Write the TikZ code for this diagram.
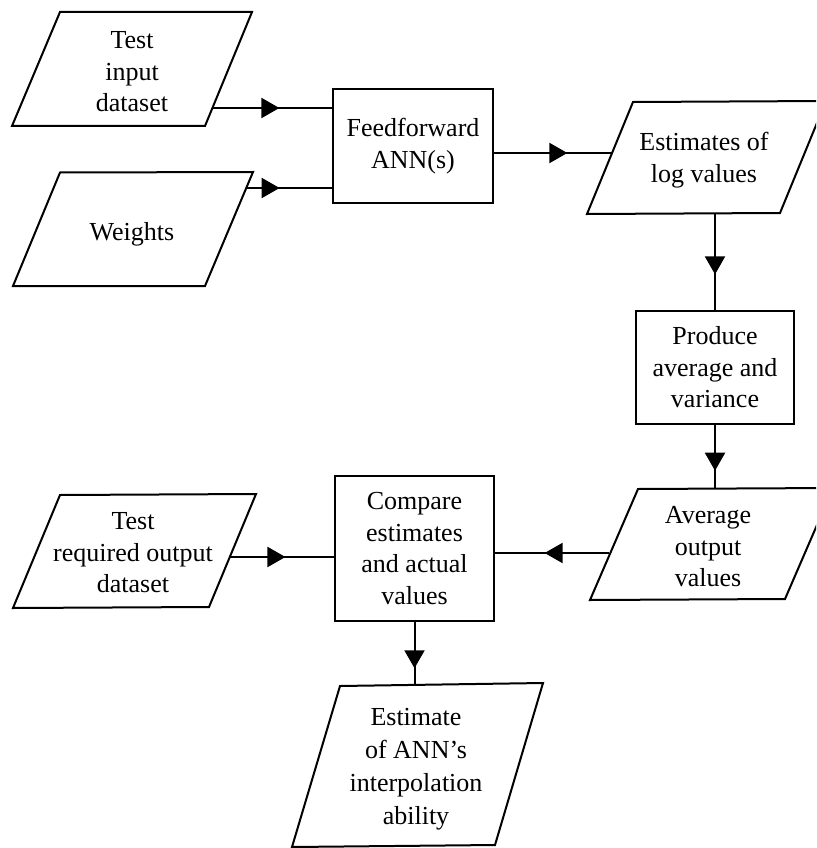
\documentclass[tikz,border=0pt]{standalone}
\usepackage{fontspec}
\setmainfont{Liberation Serif}
\usetikzlibrary{arrows.meta,decorations.markings}
\begin{document}
\begin{tikzpicture}[x=1pt,y=-1pt,
  line width=2pt,
  lbl/.style={font=\fontsize{26}{31.5}\selectfont, align=center, inner sep=0pt},
  procbox/.style={draw, line width=2pt, font=\fontsize{26}{31.5}\selectfont, align=center, inner sep=0pt},
  iobox/.style={draw, line width=2pt, line join=miter},
  conn/.style={draw, line width=2pt},
  midarr/.style={postaction={decorate,decoration={markings,mark=at position #1 with {\arrow{Triangle[length=18pt,width=20pt]}}}}}]
\useasboundingbox (0,0) rectangle (816,848);
\clip (0,0) rectangle (816,848);

% input/output parallelograms
\draw[iobox] (60,12) -- (252,12) -- (205,126) -- (12,126) -- cycle;
\node[lbl] (tin) at (132,72) {Test\\input\\dataset};

\draw[iobox] (60,172.5) -- (253,172) -- (205,286) -- (13,286) -- cycle;
\node[lbl] (wts) at (132,234) {Weights};

\draw[iobox] (633,102) -- (826,101) -- (780,213) -- (587,214) -- cycle;
\node[lbl] (est) at (704,160) {Estimates of\\log values};

\draw[iobox] (638,489) -- (833,488) -- (785,599) -- (590,600) -- cycle;
\node[lbl] (avg) at (708,547) {Average\\output\\values};

\draw[iobox] (60,495) -- (256,494) -- (209,607) -- (13,608) -- cycle;
\node[lbl] (treq) at (133,553) {Test\\required output\\dataset};

\draw[iobox] (340,686) -- (543,683) -- (495,845) -- (292,847) -- cycle;
\node[lbl, font=\fontsize{26}{33}\selectfont] (estm) at (416,769) {Estimate\\of ANN's\\interpolation\\ability};

% process boxes
\node[procbox, minimum width=160pt, minimum height=114pt] (ff) at (413,146) {Feedforward\\ANN(s)};
\node[procbox, minimum width=158pt, minimum height=113pt] (prod) at (715,367.5) {Produce\\average and\\variance};
\node[procbox, minimum width=159pt, minimum height=145pt] (cmp) at (414.5,548.5) {Compare\\estimates\\and actual\\values};

% connector end points on the parallelogram edges
\coordinate (tinR) at (213,108);
\coordinate (wtsR) at (247,188);
\coordinate (estL) at (612,153);
\coordinate (estB) at (715,213);
\coordinate (avgT) at (715,488.5);
\coordinate (avgL) at (609,553);
\coordinate (treqR) at (230,557);
\coordinate (estmT) at (414.5,684.5);

% connectors
\draw[conn, midarr=0.558] (tinR) -- (tinR -| ff.west);
\draw[conn, midarr=0.384] (wtsR) -- (wtsR -| ff.west);
\draw[conn, midarr=0.622] (ff.east |- estL) -- (estL);
\draw[conn, midarr=0.633] (estB) -- (prod.north);
\draw[conn, midarr=0.72] (prod.south) -- (avgT);
\draw[conn, midarr=0.565] (avgL) -- (avgL -| cmp.east);
\draw[conn, midarr=0.533] (treqR) -- (treqR -| cmp.west);
\draw[conn, midarr=0.74] (cmp.south) -- (estmT);
\end{tikzpicture}
\end{document}
